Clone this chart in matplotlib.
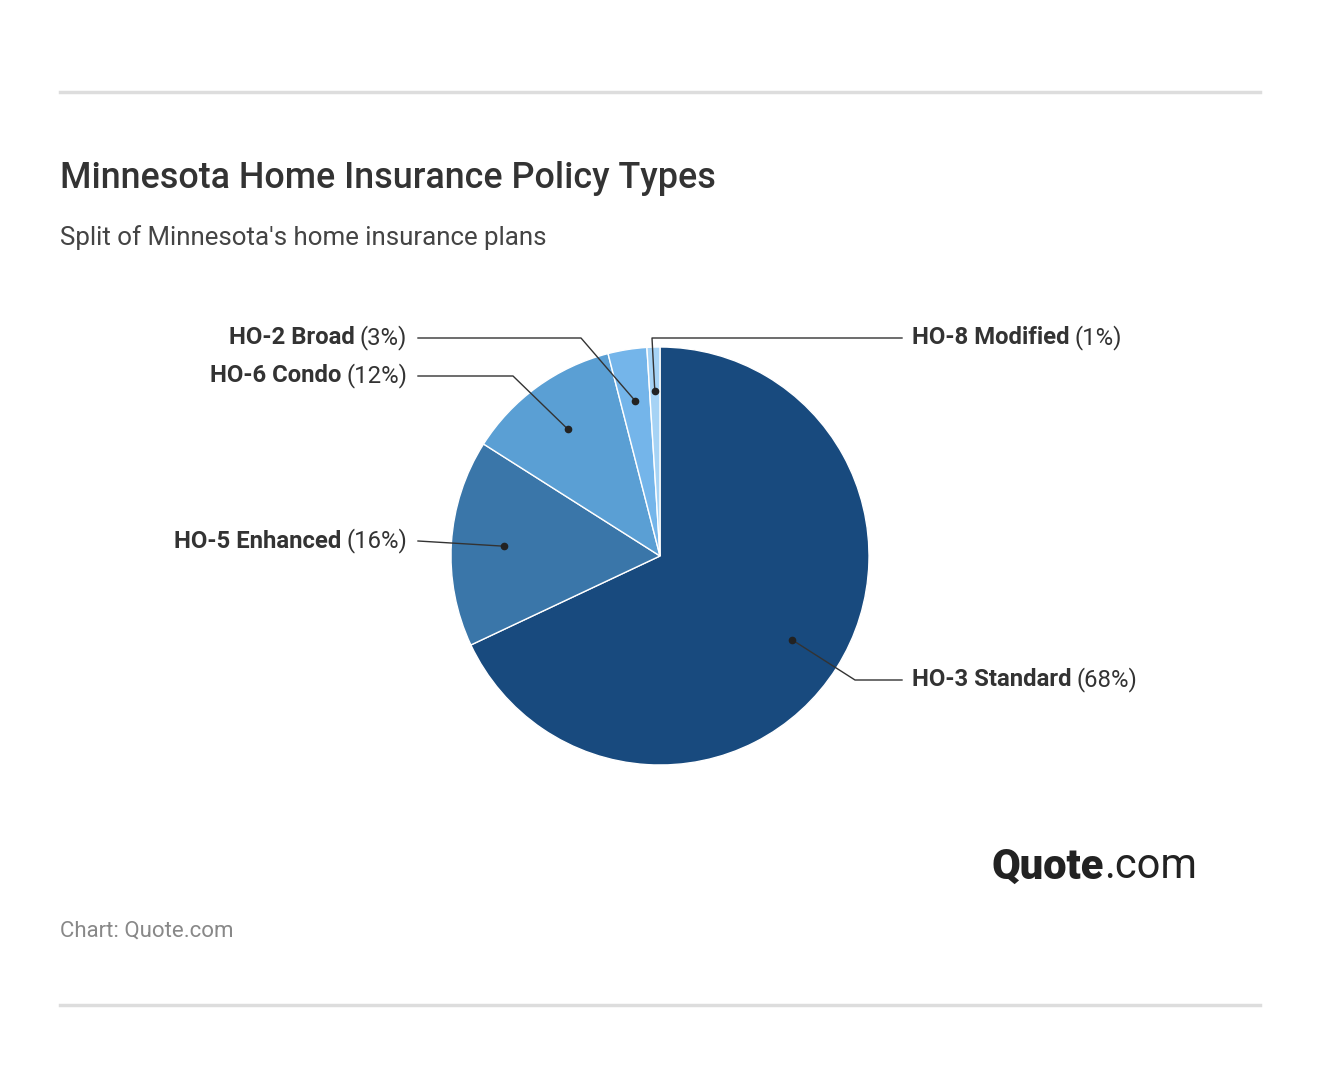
import matplotlib
matplotlib.use("Agg")
import matplotlib.pyplot as plt
import numpy as np

plt.rcParams['font.family'] = ['Roboto', 'DejaVu Sans']

labels = ["HO-3 Standard", "HO-5 Enhanced", "HO-6 Condo", "HO-2 Broad", "HO-8 Modified"]
values = [68, 16, 12, 3, 1]
colors = ["#184a7e", "#3a76a9", "#5a9fd4", "#74b5ea", "#a6d3f5"]

W, H = 1320, 1086
fig = plt.figure(figsize=(W/100, H/100), dpi=100)
R = 209
cx, cy = 660, 556
ax = fig.add_axes([(cx-R)/W, 1-(cy+R)/H, 2*R/W, 2*R/H])
wedges, _ = ax.pie(values, colors=colors, startangle=90, counterclock=False,
                   wedgeprops=dict(edgecolor="white", linewidth=1))
ax.set_xlim(-1, 1); ax.set_ylim(-1, 1); ax.set_aspect('auto')

def d(px, py):
    return (px-cx)/R, (cy-py)/R

layout = [
    (680, 'r', (855, 680)),
    (541, 'l', (418, 541)),
    (376, 'l', (513, 376)),
    (338, 'l', (581, 338)),
    (338, 'r', (652, 338)),
]
FS = 17.2
fig.canvas.draw()
renderer = fig.canvas.get_renderer()
for w, lab, v, (ty, side, elb) in zip(wedges, labels, values, layout):
    ang = np.deg2rad((w.theta1 + w.theta2) / 2)
    rr = 0.79 if lab.startswith("HO-8") else 0.75
    dx, dy = rr*np.cos(ang), rr*np.sin(ang)
    ex, ey = d(*elb)
    endx = d(902 if side == 'r' else 418, ty)[0]
    ax.plot([dx, ex, endx], [dy, ey, ey], color="#333333", lw=1, clip_on=False)
    ax.plot([dx], [dy], 'o', color="#222222", ms=4.5, clip_on=False)
    yf = 1 - ty/H
    if side == 'r':
        t1 = fig.text(912/W, yf, lab, fontsize=FS, fontweight='bold', color="#333333", va='center', ha='left')
        bb = t1.get_window_extent(renderer)
        fig.text((bb.x1 + 5)/W, yf, f"({v}%)", fontsize=FS, color="#333333", va='center', ha='left')
    else:
        t2 = fig.text(407/W, yf, f"({v}%)", fontsize=FS, color="#333333", va='center', ha='right')
        bb = t2.get_window_extent(renderer)
        fig.text((bb.x0 - 5)/W, yf, lab, fontsize=FS, fontweight='bold', color="#333333", va='center', ha='right')

for y in (92, 1005):
    fig.add_artist(plt.Line2D([60/W, 1260/W], [1-y/H, 1-y/H], color="#dddddd", lw=2.5))

fig.text(60/W, 1-179/H, "Minnesota Home Insurance Policy Types", fontsize=25.8, fontweight='medium', color="#333333", va='center')
fig.text(60/W, 1-238/H, "Split of Minnesota's home insurance plans", fontsize=18.6, color="#444444", va='center')
fig.text(60/W, 1-931/H, "Chart: Quote.com", fontsize=16, color="#888888", va='center')
tq = fig.text(992/W, 1-867/H, "Quote", fontsize=30, fontweight='black', color="#222222", va='center')
bb = tq.get_window_extent(renderer)
fig.text(bb.x1/W, 1-867/H, ".com", fontsize=30, color="#222222", va='center')

fig.savefig("out.png", dpi=100, facecolor="white")
